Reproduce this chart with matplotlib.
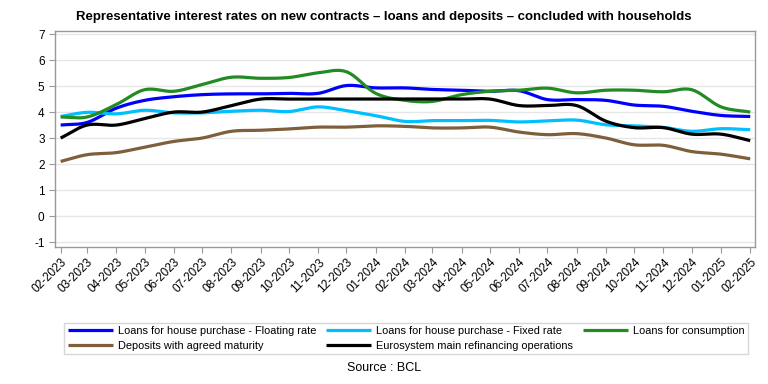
import numpy as np
import matplotlib
matplotlib.use("Agg")
import matplotlib.pyplot as plt
import matplotlib.dates as mdates
from datetime import date

plt.rcParams['font.family'] = ['Liberation Sans', 'DejaVu Sans']
plt.rcParams['axes.unicode_minus'] = False

# months 02-2023 .. 02-2025
meses = [date(2023 + (1 + i) // 12, (1 + i) % 12 + 1, 1) for i in range(25)]
etiquetas = [m.strftime('%m-%Y') for m in meses]

flotante = [3.50, 3.60, 4.15, 4.45, 4.59, 4.67, 4.70, 4.70, 4.72, 4.72, 5.02, 4.93,
            4.93, 4.87, 4.84, 4.80, 4.82, 4.48, 4.48, 4.45, 4.27, 4.22, 4.03, 3.87, 3.83]
fijo = [3.83, 3.99, 3.93, 4.07, 3.97, 3.97, 4.03, 4.07, 4.02, 4.20, 4.05, 3.86,
        3.64, 3.67, 3.67, 3.68, 3.62, 3.66, 3.69, 3.51, 3.47, 3.41, 3.26, 3.36, 3.32]
consumo = [3.81, 3.81, 4.29, 4.86, 4.80, 5.06, 5.34, 5.30, 5.33, 5.51, 5.55, 4.72,
           4.45, 4.41, 4.67, 4.80, 4.84, 4.92, 4.74, 4.84, 4.84, 4.78, 4.86, 4.20, 4.00]
depositos = [2.10, 2.36, 2.44, 2.65, 2.87, 3.00, 3.26, 3.30, 3.35, 3.42, 3.42, 3.47,
             3.45, 3.39, 3.39, 3.42, 3.23, 3.13, 3.17, 3.00, 2.74, 2.72, 2.48, 2.38, 2.20]
refinanciacion = [3.00, 3.50, 3.50, 3.75, 4.00, 4.00, 4.25, 4.50, 4.50, 4.50, 4.50, 4.50,
                  4.50, 4.50, 4.50, 4.50, 4.25, 4.25, 4.25, 3.65, 3.40, 3.40, 3.15, 3.15, 2.90]

series = [
    ('Loans for house purchase - Floating rate', flotante, '#0000ff'),
    ('Loans for house purchase - Fixed rate', fijo, '#00bfff'),
    ('Loans for consumption', consumo, '#228b22'),
    ('Deposits with agreed maturity', depositos, '#7f5f3b'),
    ('Eurosystem main refinancing operations', refinanciacion, '#000000'),
]


# curva suavizada (Catmull-Rom) entre los puntos mensuales
def suavizar(x, y, n=20):
    x = np.asarray(x, float)
    y = np.asarray(y, float)
    m = np.zeros_like(y)
    m[1:-1] = (y[2:] - y[:-2]) / (x[2:] - x[:-2])
    m[0] = (y[1] - y[0]) / (x[1] - x[0])
    m[-1] = (y[-1] - y[-2]) / (x[-1] - x[-2])
    xs, ys = [], []
    for i in range(len(x) - 1):
        h = x[i + 1] - x[i]
        t = np.linspace(0, 1, n, endpoint=False)
        h00 = 2 * t**3 - 3 * t**2 + 1
        h10 = t**3 - 2 * t**2 + t
        h01 = -2 * t**3 + 3 * t**2
        h11 = t**3 - t**2
        xs.append(x[i] + t * h)
        ys.append(h00 * y[i] + h10 * h * m[i] + h01 * y[i + 1] + h11 * h * m[i + 1])
    xs.append([x[-1]])
    ys.append([y[-1]])
    return np.concatenate(xs), np.concatenate(ys)


fig = plt.figure(figsize=(7.68, 3.84), dpi=100)
ax = fig.add_axes([0.0716, 0.3576, 0.9114, 0.5624])

xnum = mdates.date2num(meses)
lineas = []
for nombre, valores, color in series:
    xs, ys = suavizar(xnum, valores)
    l, = ax.plot(xs, ys, color=color, linewidth=2.3, label=nombre, solid_capstyle='butt')
    lineas.append(l)

ax.set_xlim(xnum[0] - 6, xnum[-1] + 5)
ax.set_ylim(-1.18, 7.13)
ax.set_yticks(range(-1, 8))
ax.set_xticks(xnum)
ax.set_xticklabels(etiquetas, rotation=45, ha='right', va='top', rotation_mode='anchor')
ax.tick_params(axis='both', labelsize=8.5, colors='#999999', labelcolor='black', length=4, width=0.8)
ax.tick_params(axis='x', pad=3)
ax.grid(axis='y', color='#e6e6e6', linewidth=1)
ax.set_axisbelow(True)
for s in ax.spines.values():
    s.set_color('#999999')
    s.set_linewidth(1)

fig.text(0.5, 0.955, 'Representative interest rates on new contracts \u2013 loans and deposits \u2013 concluded with households',
         ha='center', va='center', fontsize=9.5, fontweight='bold')

# orden por filas: la leyenda de matplotlib rellena por columnas
orden = [0, 3, 1, 4, 2]
fig.legend([lineas[i] for i in orden], [series[i][0] for i in orden],
           loc='center', bbox_to_anchor=(0.5286, 0.1185), ncol=3, fontsize=7.9, frameon=True,
           fancybox=False, edgecolor='#cccccc', handlelength=4.1, handletextpad=0.45,
           columnspacing=0.9, labelspacing=0.45, borderpad=0.3)

fig.text(0.4995, 0.042, 'Source : BCL', ha='center', va='center', fontsize=9)

fig.savefig('out.png', dpi=100)
